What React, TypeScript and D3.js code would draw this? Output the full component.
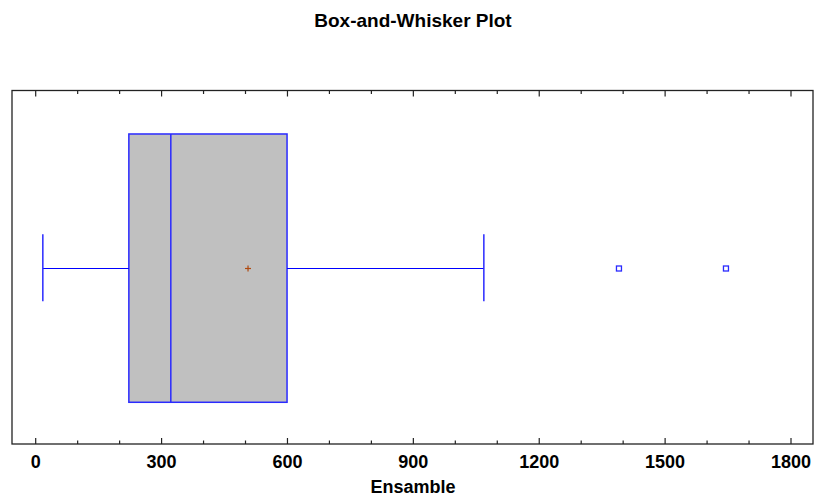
import React from "react";
import * as d3 from "d3";

const title = "Box-and-Whisker Plot";
const axisLabel = "Ensamble";
const tickValues = [0, 300, 600, 900, 1200, 1500, 1800];
const minorTickValues = d3.range(0, 1801, 100);
const whiskerLow = [17];
const quartile1 = [222];
const medianValue = [322];
const quartile3 = [599];
const whiskerHigh = [1068];
const meanValue = [506];
const outliers = [1390, 1645];

const W = 814;
const H = 496;
const frame = { left: 12, right: 813, top: 90.5, bottom: 444 };

export default function App() {
  const x = d3.scaleLinear().domain([0, 1800]).range([35.7, 791]);
  const y = d3.scaleLinear().domain([0, 1]).range([frame.bottom, frame.top]);
  const cy = Math.round(y(0.497)) + 0.5;
  const boxTop = y(0.877);
  const boxBot = y(0.118);
  const capTop = y(0.593);
  const capBot = y(0.404);
  const blue = "#2a2aff";
  const font = "'Liberation Sans', Arial, sans-serif";

  return (
    <svg width={W} height={H} style={{ position: "absolute", left: 0, top: 0, background: "#fff" }}>
      <text x={413} y={26.5} textAnchor="middle" fontFamily={font} fontWeight="bold" fontSize={19}>
        {title}
      </text>
      {/* box */}
      <rect
        x={x(quartile1[0])}
        y={boxTop}
        width={x(quartile3[0]) - x(quartile1[0])}
        height={boxBot - boxTop}
        fill="#c0c0c0"
        stroke={blue}
        strokeWidth={1.5}
      />
      <line x1={x(medianValue[0])} x2={x(medianValue[0])} y1={boxTop} y2={boxBot} stroke={blue} strokeWidth={1.5} />
      {/* whiskers */}
      <line x1={x(whiskerLow[0])} x2={x(quartile1[0])} y1={cy} y2={cy} stroke="#0000ff" strokeWidth={1.2} />
      <line x1={x(quartile3[0])} x2={x(whiskerHigh[0])} y1={cy} y2={cy} stroke="#0000ff" strokeWidth={1.2} />
      <line x1={x(whiskerLow[0])} x2={x(whiskerLow[0])} y1={capTop} y2={capBot} stroke={blue} strokeWidth={1.5} />
      <line x1={x(whiskerHigh[0])} x2={x(whiskerHigh[0])} y1={capTop} y2={capBot} stroke={blue} strokeWidth={1.5} />
      {/* mean */}
      <g stroke="#b04a10" strokeWidth={1.2}>
        <line x1={x(meanValue[0]) - 3} x2={x(meanValue[0]) + 3} y1={cy} y2={cy} />
        <line x1={x(meanValue[0])} x2={x(meanValue[0])} y1={cy - 3} y2={cy + 3} />
      </g>
      {/* outliers */}
      {outliers.map((v, i) => (
        <rect key={i} x={x(v) - 2.5} y={cy - 2.5} width={5} height={5} fill="#fff" stroke={blue} strokeWidth={1.3} />
      ))}
      {/* frame */}
      <rect
        x={frame.left}
        y={frame.top}
        width={frame.right - frame.left}
        height={frame.bottom - frame.top}
        fill="none"
        stroke="#222"
        strokeWidth={1.3}
      />
      {/* ticks */}
      {minorTickValues.map((v) => {
        const major = v % 300 === 0;
        const len = major ? 6 : 3.5;
        return (
          <g key={v} stroke="#222" strokeWidth={1.2}>
            <line x1={x(v)} x2={x(v)} y1={frame.top} y2={frame.top + len} />
            <line x1={x(v)} x2={x(v)} y1={frame.bottom} y2={frame.bottom - len} />
          </g>
        );
      })}
      {tickValues.map((v) => (
        <text key={v} x={x(v)} y={468} textAnchor="middle" fontFamily={font} fontWeight="bold" fontSize={18}>
          {v}
        </text>
      ))}
      <text x={413} y={492.5} textAnchor="middle" fontFamily={font} fontWeight="bold" fontSize={18}>
        {axisLabel}
      </text>
    </svg>
  );
}
